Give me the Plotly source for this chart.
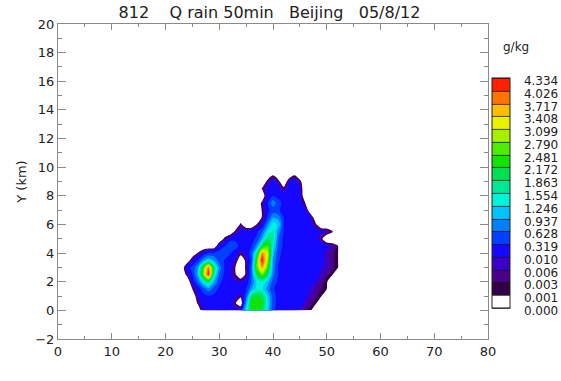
import numpy as np
import plotly.graph_objects as go

FONT = "DejaVu Sans"
TEXT = "#222222"
AXIS = "#8a8a8a"

# Cross-section grid (km)
x_km = list(range(22, 55))
y_km = [0.0, 0.5, 1.0, 1.5, 2.0, 2.5, 3.0, 3.5, 4.0, 4.5,
        5.0, 5.5, 6.0, 6.5, 7.0, 7.5, 8.0, 8.5, 9.0, 9.5, 10.0]

# Rain-water mixing ratio (g/kg); one row per y_km value, one column per x_km value
q_rain = [
    [0, 0, 0, 0, 0, 0.06, 0.12, 0.15, 0.18, 0.18, 0.15, 0.12, 0.2, 1.3, 2.1, 2.3, 2.0, 1.2, 0.4, 0.2, 0.18, 0.15, 0.1, 0.008, 0.004, 0.002, 0, 0, 0, 0, 0, 0, 0],
    [0, 0, 0, 0, 0.002, 0.1, 0.15, 0.2, 0.2, 0.18, 0.12, 0.002, 0, 0.9, 2.3, 2.45, 2.2, 1.3, 0.45, 0.2, 0.2, 0.18, 0.15, 0.1, 0.008, 0.004, 0.0015, 0, 0, 0, 0, 0, 0],
    [0, 0, 0, 0, 0.03, 0.2, 0.3, 0.25, 0.2, 0.18, 0.15, 0.1, 0.003, 0.5, 1.9, 2.2, 2.0, 1.2, 0.45, 0.22, 0.2, 0.2, 0.18, 0.15, 0.03, 0.008, 0.004, 0.0012, 0, 0, 0, 0, 0],
    [0, 0, 0, 0.0011, 0.1, 0.5, 0.8, 0.5, 0.25, 0.2, 0.15, 0.12, 0.15, 0.3, 0.9, 1.35, 1.3, 0.8, 0.35, 0.22, 0.2, 0.2, 0.2, 0.18, 0.1, 0.009, 0.005, 0.003, 0.0011, 0, 0, 0, 0],
    [0, 0, 0, 0.1, 0.6, 1.3, 1.9, 1.0, 0.4, 0.2, 0.12, 0.02, 0.01, 0.1, 0.6, 1.3, 1.5, 1.1, 0.5, 0.25, 0.2, 0.2, 0.2, 0.2, 0.18, 0.12, 0.009, 0.005, 0.002, 0, 0, 0, 0],
    [0, 0, 0.004, 0.3, 1.0, 2.6, 4.3, 1.6, 0.6, 0.25, 0.1, 0.002, 0, 0.003, 0.6, 2.0, 2.7, 1.9, 0.7, 0.3, 0.2, 0.2, 0.2, 0.2, 0.2, 0.2, 0.1, 0.008, 0.004, 0.002, 0, 0, 0],
    [0, 0, 0.2, 0.4, 0.9, 2.3, 3.9, 1.9, 0.8, 0.3, 0.1, 0.001, 0, 0.003, 0.6, 2.6, 3.7, 2.5, 0.8, 0.3, 0.22, 0.2, 0.2, 0.2, 0.2, 0.2, 0.2, 0.02, 0.008, 0.004, 0.002, 0, 0],
    [0, 0, 0, 0.05, 0.3, 0.8, 1.2, 0.9, 0.5, 0.3, 0.15, 0.01, 0, 0.004, 0.4, 2.5, 4.3, 2.9, 0.9, 0.35, 0.22, 0.2, 0.2, 0.2, 0.2, 0.2, 0.2, 0.05, 0.008, 0.004, 0.002, 0, 0],
    [0, 0, 0, 0, 0.0015, 0.1, 0.35, 0.4, 0.45, 0.5, 0.35, 0.15, 0.005, 0.1, 0.5, 1.7, 3.8, 3.1, 1.1, 0.4, 0.22, 0.2, 0.2, 0.2, 0.2, 0.2, 0.2, 0.05, 0.008, 0.004, 0.002, 0, 0],
    [0, 0, 0, 0, 0, 0, 0, 0, 0.1, 0.3, 0.65, 0.45, 0.2, 0.15, 0.3, 0.8, 2.0, 2.6, 1.4, 0.5, 0.25, 0.2, 0.2, 0.2, 0.2, 0.2, 0.2, 0.15, 0.05, 0.008, 0.002, 0, 0],
    [0, 0, 0, 0, 0, 0, 0, 0, 0, 0.003, 0.15, 0.25, 0.2, 0.15, 0.2, 0.4, 1.0, 1.9, 1.7, 0.6, 0.25, 0.2, 0.2, 0.2, 0.2, 0.2, 0.05, 0.003, 0, 0, 0, 0, 0],
    [0, 0, 0, 0, 0, 0, 0, 0, 0, 0, 0, 0.003, 0.1, 0.12, 0.15, 0.25, 0.6, 1.3, 1.6, 0.8, 0.3, 0.2, 0.2, 0.2, 0.2, 0.2, 0.1, 0.05, 0.01, 0.002, 0, 0, 0],
    [0, 0, 0, 0, 0, 0, 0, 0, 0, 0, 0, 0, 0.003, 0, 0, 0.0015, 0.1, 0.8, 1.4, 1.2, 0.3, 0.2, 0.2, 0.2, 0.2, 0.12, 0.002, 0, 0, 0, 0, 0, 0],
    [0, 0, 0, 0, 0, 0, 0, 0, 0, 0, 0, 0, 0, 0, 0, 0, 0.002, 0.35, 0.9, 0.8, 0.3, 0.2, 0.2, 0.2, 0.15, 0.05, 0, 0, 0, 0, 0, 0, 0],
    [0, 0, 0, 0, 0, 0, 0, 0, 0, 0, 0, 0, 0, 0, 0, 0, 0.002, 0.25, 0.45, 0.35, 0.25, 0.2, 0.2, 0.18, 0.1, 0, 0, 0, 0, 0, 0, 0, 0],
    [0, 0, 0, 0, 0, 0, 0, 0, 0, 0, 0, 0, 0, 0, 0, 0, 0.004, 0.3, 0.85, 0.4, 0.25, 0.2, 0.2, 0.15, 0.0011, 0, 0, 0, 0, 0, 0, 0, 0],
    [0, 0, 0, 0, 0, 0, 0, 0, 0, 0, 0, 0, 0, 0, 0, 0, 0, 0.2, 0.3, 0.25, 0.15, 0.15, 0.15, 0.1, 0, 0, 0, 0, 0, 0, 0, 0, 0],
    [0, 0, 0, 0, 0, 0, 0, 0, 0, 0, 0, 0, 0, 0, 0, 0, 0.002, 0.1, 0.15, 0.1, 0.004, 0.1, 0.15, 0.05, 0, 0, 0, 0, 0, 0, 0, 0, 0],
    [0, 0, 0, 0, 0, 0, 0, 0, 0, 0, 0, 0, 0, 0, 0, 0, 0, 0.004, 0.15, 0.004, 0, 0.02, 0.15, 0.004, 0, 0, 0, 0, 0, 0, 0, 0, 0],
    [0, 0, 0, 0, 0, 0, 0, 0, 0, 0, 0, 0, 0, 0, 0, 0, 0, 0, 0.0008, 0, 0, 0, 0.0008, 0, 0, 0, 0, 0, 0, 0, 0, 0, 0],
    [0, 0, 0, 0, 0, 0, 0, 0, 0, 0, 0, 0, 0, 0, 0, 0, 0, 0, 0, 0, 0, 0, 0, 0, 0, 0, 0, 0, 0, 0, 0, 0, 0],
]

# Contour levels (g/kg) and the fill colour of each interval between them
levels = [0.000, 0.001, 0.003, 0.006, 0.010, 0.319, 0.628, 0.937, 1.246, 1.554,
          1.863, 2.172, 2.481, 2.790, 3.099, 3.408, 3.717, 4.026, 4.334]
band_colors = ["#ffffff", "#320046", "#4a0088", "#3c00c8", "#1408ff", "#0040ff",
               "#0080ff", "#00c4ff", "#00f4d8", "#00e896", "#00e050", "#10e400",
               "#50ec00", "#a4f000", "#eaf200", "#ffbc00", "#ff7400", "#ff2000"]

title_text = ("812\u00a0\u00a0\u00a0\u00a0Q rain 50min\u00a0\u00a0\u00a0"
              "Beijing\u00a0\u00a0\u00a005/8/12")

for row in q_rain:
    assert len(row) == len(x_km)
assert len(q_rain) == len(y_km)

n_bands = len(band_colors)

# The levels are unevenly spaced, so the field is contoured in a "band" space
# where each interval between two levels has a fixed width (the three faint
# purple intervals are kept narrow so the outline fringe stays thin).
band_width = [4, 1, 1, 1] + [4] * (n_bands - 4)
level_pos = np.concatenate([[0], np.cumsum(band_width)]).astype(float)
z_band = np.interp(np.asarray(q_rain, dtype=float), levels, level_pos)

# unit contour spacing; colour of each unit slab = colour of its interval
top = int(level_pos[-1])
n_slabs = top
fill_scale = []
for j in range(n_slabs + 1):
    k = int(np.searchsorted(level_pos, j + 0.5, side="right")) - 1
    fill_scale.append([j / n_slabs, band_colors[min(k, n_bands - 1)]])

step_scale = []
for k, c in enumerate(band_colors):
    step_scale += [[k / n_bands, c], [(k + 1) / n_bands, c]]

# plot area: 430 x 315 px
PLOT_W, PLOT_H = 430, 315
bar_common = dict(
    thickness=18, thicknessmode="pixels",
    len=230, lenmode="pixels",
    xanchor="left", xpad=0, yanchor="middle", ypad=0,
)
bar_x = 1 + 3.7 / PLOT_W
bar_y = 1 - 169.3 / PLOT_H

fig = go.Figure()

fig.add_trace(go.Contour(
    x=x_km, y=y_km, z=z_band,
    autocontour=False,
    contours=dict(start=1, end=top, size=1, coloring="fill", showlines=False),
    colorscale=fill_scale,
    line=dict(width=0, smoothing=0.7),
    showscale=False,
    hoverinfo="skip",
))

# colour key: one box per interval between two levels
fig.add_trace(go.Heatmap(
    x=[500, 501], y=[500, 501], z=[[0, n_bands], [0, n_bands]],
    zmin=0, zmax=n_bands, colorscale=step_scale,
    showscale=True, hoverinfo="skip",
    colorbar=dict(**bar_common, x=bar_x, y=bar_y, showticklabels=False, ticks="",
                  outlinewidth=1, outlinecolor="#222222"),
))

# thin separators between the key boxes
fig.add_trace(go.Contour(
    x=[500, 501], y=[500, 501], z=[[0, n_bands], [0, n_bands]],
    autocontour=False,
    contours=dict(start=0, end=n_bands, size=1, coloring="lines"),
    colorscale=[[0, "#1a1a1a"], [1, "#1a1a1a"]],
    line=dict(width=0.8),
    showscale=True, hoverinfo="skip",
    colorbar=dict(**bar_common, x=bar_x, y=bar_y, showticklabels=False, ticks="",
                  outlinewidth=0),
))

# level labels of the key, set a little to the right of the boxes
clear = "rgba(0,0,0,0)"
fig.add_trace(go.Heatmap(
    x=[500, 501], y=[500, 501], z=[[0, n_bands], [0, n_bands]],
    zmin=0, zmax=n_bands, colorscale=[[0, clear], [1, clear]],
    showscale=True, hoverinfo="skip",
    colorbar=dict(
        **bar_common, x=bar_x + 11 / PLOT_W, y=bar_y - 2.5 / PLOT_H,
        tickmode="array", tickvals=list(range(len(levels))),
        ticktext=[f"{v:.3f}" for v in levels],
        ticks="", tickfont=dict(family=FONT, size=12, color=TEXT),
        outlinewidth=0,
    ),
))

axis_common = dict(
    showline=True, linecolor=AXIS, linewidth=1, mirror="allticks",
    ticks="inside", tickcolor=AXIS, tickwidth=1,
    showgrid=False, zeroline=False,
    tickfont=dict(family=FONT, size=13, color=TEXT),
)

fig.update_xaxes(
    range=[0, 80], tickmode="linear", tick0=0, dtick=10, ticklen=6,
    minor=dict(dtick=5, ticklen=3, ticks="inside", tickcolor=AXIS, showgrid=False),
    **axis_common,
)
fig.update_yaxes(
    range=[-2, 20], tickmode="linear", tick0=0, dtick=2, ticklen=8,
    minor=dict(dtick=1, ticklen=4, ticks="inside", tickcolor=AXIS, showgrid=False),
    title=dict(text="Y (km)", font=dict(family=FONT, size=13, color=TEXT), standoff=5),
    **axis_common,
)

fig.add_annotation(
    text="g/kg", xref="paper", yref="paper",
    x=1 + 28 / PLOT_W, y=1 - 23 / PLOT_H,
    xanchor="center", yanchor="middle", showarrow=False,
    font=dict(family=FONT, size=12, color=TEXT),
)

fig.update_layout(
    width=561, height=381,
    margin=dict(l=58, r=73, t=24, b=42, autoexpand=False),
    paper_bgcolor="white", plot_bgcolor="white",
    showlegend=False,
    font=dict(family=FONT, color=TEXT),
    title=dict(
        text=title_text, xref="container", x=269.5 / 561, xanchor="center",
        yref="container", y=1 - 12.5 / 381, yanchor="middle",
        font=dict(family=FONT, size=16, color=TEXT),
    ),
)

fig.write_html("out.html")
